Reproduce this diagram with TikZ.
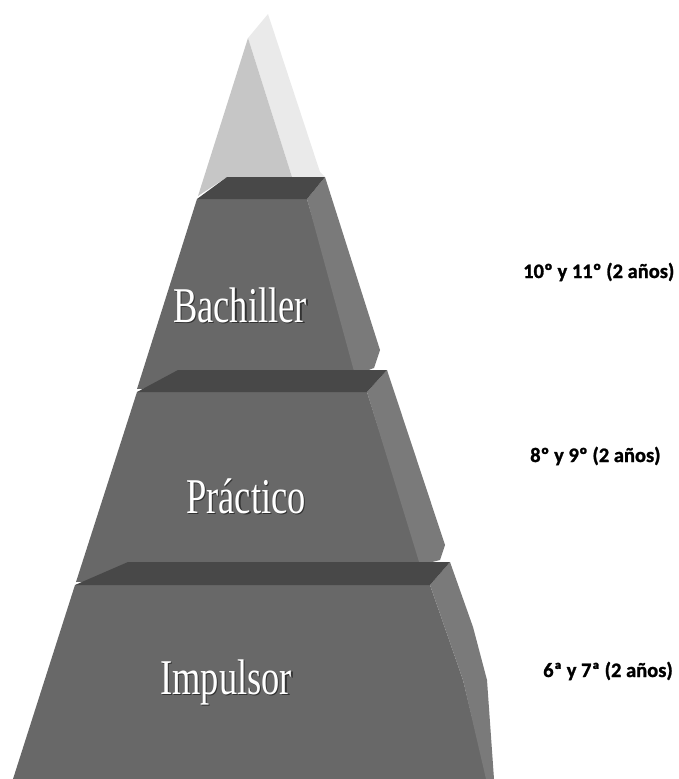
\documentclass[tikz,border=0pt]{standalone}
\usepackage{fontspec}
\newfontfamily\condserif[FakeStretch=0.73]{Liberation Serif}
\newfontfamily\labfont[FakeBold=1.2]{Carlito Bold}
\definecolor{frontgray}{RGB}{104,104,104}
\definecolor{sidegray}{RGB}{122,122,122}
\definecolor{bandgray}{RGB}{72,72,72}
\definecolor{tipleft}{RGB}{198,198,198}
\definecolor{tipright}{RGB}{234,234,234}
\tikzset{
  front/.style={fill=frontgray, draw=none},
  side/.style={fill=sidegray, draw=none},
  band/.style={fill=bandgray, draw=none},
  layertext/.style={inner sep=0pt, anchor=base west, text=white, font=\condserif\fontsize{50}{50}\selectfont},
  layershadow/.style={inner sep=0pt, anchor=base west, text=black!80, font=\condserif\fontsize{50}{50}\selectfont},
  yearlabel/.style={inner sep=0pt, anchor=base west, text=black, font=\labfont\fontsize{20.5}{20.5}\selectfont}
}
\begin{document}
\begin{tikzpicture}[x=1pt,y=-1pt]
\useasboundingbox (0,0) rectangle (679,779);
% top tip
\fill[tipright] (248,38) -- (268,14) -- (320,172) -- (325,177) -- (292,177) -- cycle;
\fill[tipleft] (248,38) -- (292,177) -- (227,177) -- (198,196) -- cycle;
% Bachiller layer
\path[front] (197,199) -- (307,199) -- (360,380) -- (137,389) -- cycle;
\path[side] (307,199) -- (325,177) -- (380,350) -- (374,368) -- (355,375) -- cycle;
\path[band] (227,177) -- (325,177) -- (307,199) -- (197,199) -- cycle;
% Practico layer
\path[front] (137,392) -- (367,392) -- (425,575) -- (76,582) -- cycle;
\path[side] (367,392) -- (387,370) -- (445,545) -- (440,560) -- (420,565) -- cycle;
\path[band] (178,370) -- (387,370) -- (367,392) -- (137,392) -- cycle;
% Impulsor layer
\path[front] (75,585) -- (430,585) -- (463,680) -- (487,779) -- (13,779) -- cycle;
\path[side] (430,585) -- (450,562) -- (473,627) -- (487,680) -- (494,779) -- (486,779) -- (463,680) -- cycle;
\path[band] (128,562) -- (450,562) -- (430,585) -- (75,585) -- cycle;
% layer names
\node[layershadow] (bachS) at (174.2,323.2) {Bachiller};
\node[layertext] (bach) at (173,322) {Bachiller};
\node[layershadow] (pracS) at (187.2,514.2) {Práctico};
\node[layertext] (prac) at (186,513) {Práctico};
\node[layershadow] (impS) at (161.2,695.2) {Impulsor};
\node[layertext] (imp) at (160,694) {Impulsor};
% year labels
\node[yearlabel] (l1) at (523,278) {10º y 11º (2 años)};
\node[yearlabel] (l2) at (530,462) {8º y 9º (2 años)};
\node[yearlabel] (l3) at (543,677) {6ª y 7ª (2 años)};
\end{tikzpicture}
\end{document}
